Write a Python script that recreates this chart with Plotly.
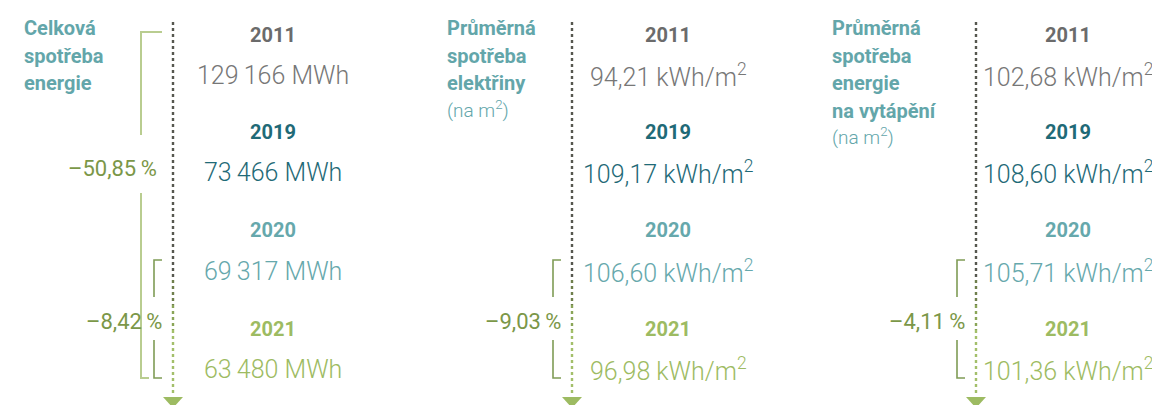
import plotly.graph_objects as go

# data
years = ["2011", "2019", "2020", "2021"]
titles = [
    ["Celková", "spotřeba", "energie"],
    ["Průměrná", "spotřeba", "elektřiny"],
    ["Průměrná", "spotřeba", "energie", "na vytápění"],
]
subtitles = ["", "(na m<sup>2</sup>)", "(na m<sup>2</sup>)"]
total_energy = ["129\u2009166 MWh", "73\u2009466 MWh", "69\u2009317 MWh", "63\u2009480 MWh"]
electricity = ["94,21 kWh/m<sup>2</sup>", "109,17 kWh/m<sup>2</sup>",
               "106,60 kWh/m<sup>2</sup>", "96,98 kWh/m<sup>2</sup>"]
heating = ["102,68 kWh/m<sup>2</sup>", "108,60 kWh/m<sup>2</sup>",
           "105,71 kWh/m<sup>2</sup>", "101,36 kWh/m<sup>2</sup>"]
values = [total_energy, electricity, heating]
# changes: (from year index, to year index, label)
changes = [
    [(0, 3, "–50,85\u2009%"), (2, 3, "–8,42\u2009%")],
    [(2, 3, "–9,03\u2009%")],
    [(2, 3, "–4,11\u2009%")],
]

# layout (page body has an 8px margin, so the figure is shrunk and shifted)
W, H = 1160, 405
OFF = 8
dot_x = [173, 572, 976]
val_x = [273, 668, 1068]
title_x = [22, 445, 830]
title_y = [28, 56, 83, 111]
year_y = [35, 132, 230, 329]
val_y = [75, 172, 271, 369]
year_colors = ["#6b6b6b", "#1f6a77", "#66a8ac", "#9dbb62"]
val_colors = ["#777777", "#1f6a77", "#66a8ac", "#9dbb62"]
title_color = "#63a6aa"
pct_color = "#7b9748"
outer_color = "#b9cd90"
inner_color = "#7f9c55"

fig = go.Figure()
shapes = []
annotations = []

for p in range(3):
    x = dot_x[p]
    # dotted timeline with colour fade from dark grey to green
    segs = [(22, 280, "#56574f"), (280, 305, "#6f7f4c"), (305, 330, "#8aa558"), (330, 396, "#a3bf6a")]
    for y0, y1, c in segs:
        fig.add_trace(go.Scatter(x=[x, x], y=[y0, y1], mode="lines",
                                 line=dict(color=c, width=2.4, dash="dot"),
                                 hoverinfo="skip", showlegend=False))
    shapes.append(dict(type="path", path=f"M {x-10} 397 L {x+10} 397 L {x} 408 Z",
                       fillcolor="#9dbb62", line=dict(width=0), xref="x", yref="y"))

    # title
    for j, t in enumerate(titles[p]):
        annotations.append(dict(x=title_x[p], y=title_y[j], xanchor="left", yanchor="middle",
                                text="<b>" + t + "</b>",
                                font=dict(size=20, color=title_color, family="Roboto"),
                                showarrow=False))
    if subtitles[p]:
        sy = title_y[len(titles[p])] if len(titles[p]) < 4 else title_y[3] + 27
        annotations.append(dict(x=title_x[p], y=sy - 2, xanchor="left", yanchor="middle",
                                text=subtitles[p],
                                font=dict(size=19, color=title_color, family="Roboto", weight=300),
                                showarrow=False))

    # years and values
    for i in range(4):
        annotations.append(dict(x=val_x[p], y=year_y[i], xanchor="center", yanchor="middle",
                                text="<b>" + years[i] + "</b>",
                                font=dict(size=20, color=year_colors[i], family="Roboto"),
                                showarrow=False))
        annotations.append(dict(x=val_x[p], y=val_y[i], xanchor="center", yanchor="middle",
                                text=values[p][i],
                                font=dict(size=25, color=val_colors[i], family="Roboto", weight=300),
                                showarrow=False))

    # change brackets
    for a, b, label in changes[p]:
        bottom = val_y[b] + 9
        if a == 0:
            bx = x - 32
            top = year_y[a] - 3
            gap0, gap1 = 135, 193
            ly = 168
            lx = x - 14
            col, lw = outer_color, 2
            end = x - 24
        else:
            bx = x - 19
            top = val_y[a] - 11
            gap0, gap1 = 297, 340
            ly = 321
            lx = x - 9
            col, lw = inner_color, 1.6
            end = x - 11
        fig.add_trace(go.Scatter(x=[x - 11, bx, bx], y=[top, top, gap0], mode="lines",
                                 line=dict(color=col, width=lw), hoverinfo="skip", showlegend=False))
        fig.add_trace(go.Scatter(x=[bx, bx, end], y=[gap1, bottom, bottom], mode="lines",
                                 line=dict(color=col, width=lw), hoverinfo="skip", showlegend=False))
        annotations.append(dict(x=lx, y=ly, xanchor="right", yanchor="middle", text=label,
                                font=dict(size=22, color=pct_color, family="Roboto"),
                                showarrow=False))

fig.update_layout(
    width=W - OFF, height=H - OFF,
    margin=dict(l=0, r=0, t=0, b=0),
    paper_bgcolor="white", plot_bgcolor="white",
    xaxis=dict(range=[OFF, W], visible=False, fixedrange=True),
    yaxis=dict(range=[H, OFF], visible=False, fixedrange=True),
    shapes=shapes, annotations=annotations,
    showlegend=False,
)

fig.write_html("out.html")
